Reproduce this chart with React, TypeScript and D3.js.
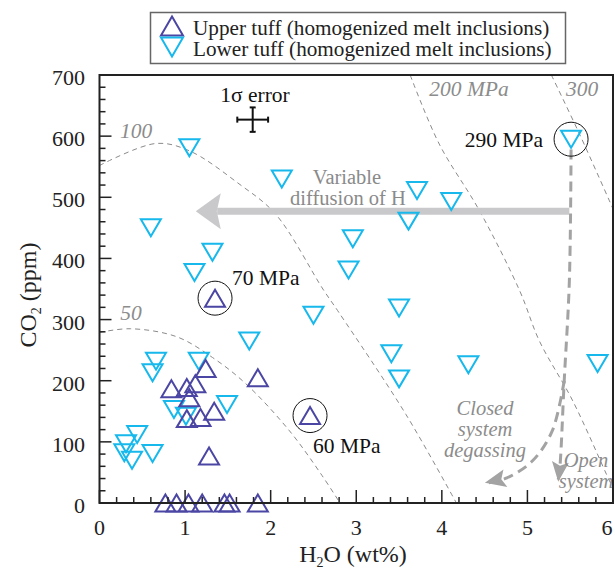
import React from 'react';
import * as d3 from 'd3';

// Upper tuff (homogenized melt inclusions): [H2O wt%, CO2 ppm]
const upperTuff: [number, number][] = [
  [1.35, 335], [1.24, 220], [1.85, 205], [0.84, 187], [1.02, 189], [1.12, 195],
  [1.05, 172], [1.34, 150], [1.18, 140], [1.02, 138], [1.28, 77], [2.46, 143],
  [0.77, 0], [0.9, 0], [1.04, 0], [1.2, 0], [1.46, 0], [1.52, 0], [1.85, 0],
];

// Lower tuff (homogenized melt inclusions)
const lowerTuff: [number, number][] = [
  [1.05, 581], [2.13, 530], [0.6, 450], [1.32, 410], [1.11, 377], [5.51, 595],
  [3.71, 511], [4.11, 493], [3.61, 461], [2.96, 432], [2.91, 381], [3.5, 319],
  [3.41, 244], [3.5, 203], [4.31, 226], [5.82, 228], [2.5, 307], [1.75, 265],
  [0.66, 232], [0.62, 213], [1.16, 232], [1.49, 161], [0.87, 153], [1.01, 142],
  [0.44, 112], [0.31, 97], [0.29, 82], [0.38, 70], [0.62, 81],
];

// isobars (MPa)
const isobar50: [number, number][] = [[0, 279], [0.36, 285], [0.9, 272], [1.32, 238], [1.71, 195], [2.22, 118], [2.6, 45], [2.81, 0]];
const isobar100: [number, number][] = [[0, 552], [0.66, 588], [1.05, 576], [1.63, 522], [2.06, 472], [2.61, 350], [2.8, 311], [3.58, 145], [4.17, 0]];
const isobar200: [number, number][] = [[3.63, 700], [3.97, 587], [4.44, 478], [4.91, 347], [5.14, 265], [5.53, 167], [5.96, 36], [6.0, 25]];
const isobar300: [number, number][] = [[5.28, 700], [5.61, 603], [6.0, 481]];

// degassing paths
const openPath: [number, number][] = [[5.51, 578], [5.49, 363], [5.43, 200], [5.38, 60], [5.36, 38]];
const closedPath: [number, number][] = [[5.43, 200], [5.29, 118], [5.06, 69], [4.76, 41], [4.55, 33]];
const diffusionArrow: [number, number][] = [[5.49, 477], [1.125, 477]];

const circled = [
  { pt: [1.35, 335], label: '70 MPa', dx: 17, dy: -13, anchor: 'start' },
  { pt: [2.46, 143], label: '60 MPa', dx: 3, dy: 37, anchor: 'start' },
  { pt: [5.51, 595], label: '290 MPa', dx: -28, dy: 8, anchor: 'end' },
];

const xTicks = [0, 1, 2, 3, 4, 5, 6];
const yTicks = [0, 100, 200, 300, 400, 500, 600, 700];

const W = 615;
const H = 575;
const PURPLE = '#4b46a3';
const CYAN = '#17b8ec';
const GRAY = '#a3a3a3';
const FONT = '"Liberation Serif", "DejaVu Serif", serif';

const tri = (w: number, h: number, up: boolean) =>
  up ? `M0,${-h / 2}L${w / 2},${h / 2}L${-w / 2},${h / 2}Z` : `M0,${h / 2}L${w / 2},${-h / 2}L${-w / 2},${-h / 2}Z`;

export default function App() {
  const x = d3.scaleLinear().domain([0, 6]).range([99.5, 613]);
  const y = d3.scaleLinear().domain([0, 700]).range([503, 75]);

  const curve = d3.line<[number, number]>().x(d => x(d[0])).y(d => y(d[1])).curve(d3.curveCatmullRom);
  const straight = d3.line<[number, number]>().x(d => x(d[0])).y(d => y(d[1]));

  const xMinor = d3.range(0, 6.001, 0.2);
  const yMinor = d3.range(0, 701, 20);

  const arrowHead = (tip: [number, number], from: [number, number], len: number, half: number) => {
    const ang = Math.atan2(tip[1] - from[1], tip[0] - from[0]);
    const deg = (ang * 180) / Math.PI;
    return (
      <path
        transform={`translate(${tip[0]},${tip[1]}) rotate(${deg})`}
        d={`M0,0L${-len},${-half}L${-len * 0.8},0L${-len},${half}Z`}
        fill={GRAY}
      />
    );
  };

  const oLast = openPath[openPath.length - 1];
  const oPrev = openPath[openPath.length - 2];
  const cLast = closedPath[closedPath.length - 1];
  const cPrev = closedPath[closedPath.length - 2];

  return (
    <svg width={W} height={H} style={{ position: 'absolute', left: 0, top: 0, background: '#fff' }} fontFamily={FONT}>
      <defs>
        <clipPath id="plot">
          <rect x={x(0)} y={y(700)} width={x(6) - x(0)} height={y(0) - y(700)} />
        </clipPath>
      </defs>

      {/* legend */}
      <rect x={150.5} y={12.5} width={415} height={51} fill="#fff" stroke="#666" strokeWidth={1.5} />
      <path d={tri(22, 19, true)} transform="translate(172,26)" fill="none" stroke={PURPLE} strokeWidth={2} />
      <path d={tri(22, 19, false)} transform="translate(172,47)" fill="none" stroke={CYAN} strokeWidth={2} />
      <text x={193} y={35} fontSize={21.2} fill="#222">Upper tuff (homogenized melt inclusions)</text>
      <text x={193} y={56} fontSize={21.2} fill="#222">Lower tuff (homogenized melt inclusions)</text>

      {/* isobars */}
      <g clipPath="url(#plot)" fill="none" stroke="#8a8a8a" strokeWidth={1} strokeDasharray="5,4">
        <path d={curve(isobar50) ?? ''} />
        <path d={curve(isobar100) ?? ''} />
        <path d={curve(isobar200) ?? ''} />
        <path d={curve(isobar300) ?? ''} />
      </g>
      <g fill="#8c8c8c" fontStyle="italic" fontSize={21.5} textAnchor="middle">
        <text x={131} y={320}>50</text>
        <text x={136} y={138}>100</text>
        <text x={469} y={96}>200 MPa</text>
        <text x={582} y={96}>300</text>
      </g>

      {/* diffusion arrow */}
      <path d={straight([diffusionArrow[0], [diffusionArrow[1][0] + 0.25, diffusionArrow[1][1]]]) ?? ''} stroke="#c9c9cb" strokeWidth={7} />
      <path
        transform={`translate(${x(diffusionArrow[1][0])},${y(diffusionArrow[1][1])})`}
        d="M0,0L25,-18L21,0L25,18Z"
        fill="#c9c9cb"
      />
      <g fill="#8a8a8a" fontSize={20.5} textAnchor="middle">
        <text x={347} y={184}>Variable</text>
        <text x={348} y={205}>diffusion of H</text>
      </g>

      {/* degassing */}
      <path d={curve(openPath) ?? ''} fill="none" stroke={GRAY} strokeWidth={3} strokeDasharray="10,6" />
      <path d={curve(closedPath) ?? ''} fill="none" stroke={GRAY} strokeWidth={3} strokeDasharray="10,6" />
      {arrowHead([x(oLast[0]), y(oLast[1]) + 2], [x(oPrev[0]), y(oPrev[1])], 20, 8.5)}
      {arrowHead([x(cLast[0]) - 4, y(cLast[1])], [x(cPrev[0]), y(cPrev[1])], 21, 9)}
      <g fill="#8c8c8c" fontStyle="italic" fontSize={20.5} textAnchor="middle">
        <text x={485} y={415}>Closed</text>
        <text x={485} y={436}>system</text>
        <text x={485} y={457}>degassing</text>
        <text x={586} y={467}>Open</text>
        <text x={586} y={488}>system</text>
      </g>

      {/* error bar */}
      <g stroke="#111" strokeWidth={2}>
        <line x1={x(1.79 - 0.18)} x2={x(1.79 + 0.18)} y1={y(627)} y2={y(627)} />
        <line x1={x(1.79)} x2={x(1.79)} y1={y(627 - 20)} y2={y(627 + 20)} />
        <line x1={x(1.61)} x2={x(1.61)} y1={y(627) - 3} y2={y(627) + 3} />
        <line x1={x(1.97)} x2={x(1.97)} y1={y(627) - 3} y2={y(627) + 3} />
        <line x1={x(1.79) - 3} x2={x(1.79) + 3} y1={y(647)} y2={y(647)} />
        <line x1={x(1.79) - 3} x2={x(1.79) + 3} y1={y(607)} y2={y(607)} />
      </g>
      <text x={255} y={102} fontSize={21.5} textAnchor="middle" fill="#111">1σ error</text>

      {/* data */}
      {lowerTuff.map((d, i) => (
        <path key={'l' + i} d={tri(20, 17, false)} transform={`translate(${x(d[0])},${y(d[1])})`} fill="none" stroke={CYAN} strokeWidth={2} />
      ))}
      {upperTuff.map((d, i) => (
        <path key={'u' + i} d={tri(20, 17, true)} transform={`translate(${x(d[0])},${y(d[1])})`} fill="none" stroke={PURPLE} strokeWidth={2} />
      ))}

      {/* circled pressures */}
      {circled.map(c => (
        <g key={c.label}>
          <circle cx={x(c.pt[0])} cy={y(c.pt[1])} r={17} fill="none" stroke="#111" strokeWidth={1} />
          <text x={x(c.pt[0]) + c.dx} y={y(c.pt[1]) + c.dy} fontSize={21.5} fill="#111" textAnchor={c.anchor}>{c.label}</text>
        </g>
      ))}

      {/* axes */}
      <g stroke="#222" strokeWidth={1.5}>
        {xMinor.map(v => (
          <line key={'xm' + v} x1={x(v)} x2={x(v)} y1={y(0)} y2={y(0) - (Math.abs(v - Math.round(v)) < 1e-6 ? 13 : 6)} />
        ))}
        {yMinor.map(v => (
          <line key={'ym' + v} x1={x(0)} x2={x(0) + (v % 100 === 0 ? 12 : 6)} y1={y(v)} y2={y(v)} />
        ))}
      </g>
      <rect x={x(0)} y={y(700)} width={x(6) - x(0)} height={y(0) - y(700)} fill="none" stroke="#222" strokeWidth={2} />
      <g fontSize={22} fill="#222">
        {xTicks.map(v => (
          <text key={'xt' + v} x={Math.min(x(v), 607)} y={535} textAnchor="middle">{v}</text>
        ))}
        {yTicks.map(v => (
          <text key={'yt' + v} x={85} y={y(v) + 10} textAnchor="end">{v}</text>
        ))}
      </g>
      <text x={353} y={562} fontSize={24} textAnchor="middle" fill="#222">
        H<tspan fontSize={14} dy={5}>2</tspan><tspan dy={-5}>O (wt%)</tspan>
      </text>
      <text transform="translate(36,295) rotate(-90)" fontSize={24} textAnchor="middle" fill="#222">
        CO<tspan fontSize={14} dy={5}>2</tspan><tspan dy={-5}> (ppm)</tspan>
      </text>
    </svg>
  );
}
